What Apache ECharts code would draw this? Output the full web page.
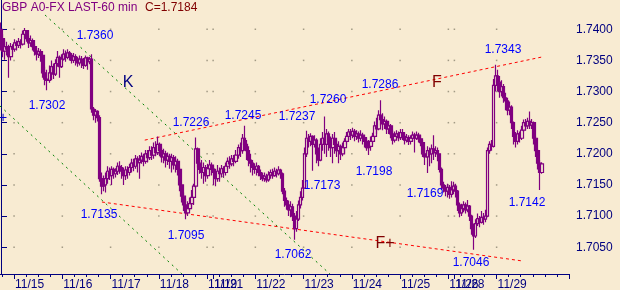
<!DOCTYPE html>
<html><head><meta charset="utf-8">
<script src="https://cdn.jsdelivr.net/npm/echarts@6/dist/echarts.min.js"></script>
<style>html,body{margin:0;padding:0;background:#F8EBD2;}#c{width:620px;height:290px;}</style>
</head><body><div id="c"></div>
<script>
// ---- data (prices in pips above 1.7000) ----
const firstOpen = 400;
const closes = [
385,365,372,368,356,372,368,378,374,380,
376,392,398,385,378,382,372,365,360,364,
358,330,320,318,330,340,328,345,355,340,
352,360,355,362,358,350,356,352,346,352,
350,342,354,348,352,272,262,268,258,160,
148,150,160,172,165,175,168,172,180,178,
172,165,174,170,178,185,180,192,186,190,
196,188,200,194,205,198,210,202,215,205,
195,200,190,196,188,194,182,188,175,150,
132,118,105,112,120,130,148,208,185,175,
170,178,165,176,182,175,170,160,172,168,
176,170,180,188,184,192,188,198,210,205,
225,215,205,190,185,178,175,180,170,165,
160,164,158,166,170,165,172,168,174,168,
140,125,118,110,115,100,80,95,118,130,
145,200,225,220,228,215,222,200,190,215,
225,215,232,220,210,225,215,205,212,200,
210,220,228,235,230,236,228,232,225,230,
226,220,210,212,220,228,245,240,262,255,
248,252,240,245,232,222,228,232,226,234,
228,222,226,220,225,230,225,230,224,218,
200,195,205,200,208,202,205,200,175,150,
145,140,146,135,142,148,140,118,105,112,
118,110,116,100,80,68,88,96,90,98,
95,100,205,215,212,310,325,315,300,308,
290,285,270,275,250,228,220,232,225,238,
250,245,252,246,250,225,205,185,170,184];
const highs = [
411,392,383,380,375,378,376,384,382,386,
384,398,402,399,388,390,385,376,370,370,
368,360,340,335,342,350,345,352,365,358,
360,368,366,368,365,362,362,360,356,358,
357,354,358,356,356,360,275,272,270,262,
170,165,170,180,178,180,178,177,186,188,
182,178,180,180,184,192,192,198,196,198,
202,200,206,206,212,212,218,220,228,218,
210,208,205,202,200,200,198,196,192,178,
152,138,128,124,130,142,152,226,210,192,
190,186,182,184,190,186,180,175,182,178,
182,180,186,194,196,198,198,206,215,218,
232,245,222,212,200,190,185,186,182,175,
170,170,168,172,175,176,178,176,180,176,
170,145,130,125,124,120,105,108,125,140,
158,210,237,232,233,230,230,225,210,225,
235,260,240,236,228,232,235,222,220,215,
218,225,235,240,240,242,240,238,236,238,
234,230,225,222,228,234,252,258,270,286,
265,260,255,252,248,238,236,238,236,240,
240,234,232,230,230,236,234,236,234,230,
222,210,212,210,215,230,212,210,200,178,
155,150,152,150,156,155,152,142,122,120,
124,122,126,118,102,88,95,104,100,108,
105,110,210,220,222,320,343,335,325,318,
312,298,290,284,278,252,235,238,236,245,
255,256,258,268,256,252,228,208,190,186];
const lows = [
366,355,351,358,322,350,360,364,366,370,
369,374,385,380,370,372,366,358,350,354,
348,322,310,302,314,318,320,325,340,322,
338,350,348,352,350,345,346,342,340,342,
338,336,340,335,344,266,254,250,252,155,
135,140,138,152,158,150,160,162,166,168,
160,150,158,160,165,170,172,176,170,160,
184,180,184,186,190,190,192,196,198,196,
186,185,178,182,176,170,175,170,165,140,
122,108,95,100,108,112,118,145,178,168,
160,152,155,160,166,165,150,148,155,155,
162,162,165,175,176,180,180,185,192,195,
200,205,190,180,170,165,168,165,164,158,
156,155,154,155,160,160,163,162,165,160,
135,115,110,100,98,92,62,75,92,112,
125,145,195,210,212,173,210,185,180,188,
205,200,195,205,195,185,200,195,185,190,
196,200,215,222,222,225,220,222,218,220,
215,210,205,198,205,215,225,232,238,245,
238,240,232,232,225,215,218,222,220,222,
222,215,218,214,215,220,202,222,218,212,
195,182,169,180,185,190,195,188,170,142,
138,132,130,128,130,135,130,108,98,100,
106,104,106,92,70,46,65,84,82,88,
86,90,98,200,205,210,300,300,290,292,
282,270,262,262,240,215,210,215,218,222,
235,238,240,240,240,215,195,175,142,168];
const dayTickIdx = [7,31,55,79,103,106,127,151,175,199,223,226,247];
const dayLabels = ['11/15','11/16','11/17','11/18','11/19','11/21','11/22','11/23','11/24','11/25','11/26','11/28','11/29'];
const yTicks = [1.7050,1.7100,1.7150,1.7200,1.7250,1.7300,1.7350,1.7400];
const swingValues = ['1.7360','1.7302','1.7226','1.7245','1.7237','1.7260','1.7286','1.7343','1.7135','1.7095','1.7062','1.7173','1.7198','1.7169','1.7046','1.7142'];
const lastClose = '1.7184';
// trend lines: [barIndex, price]
const lineUpperF = [[71.5,1.7222],[269.1,1.73555]];
const lineLowerF = [[50.2,1.71226],[259.6,1.70278]];
const lineGreen1 = [[21.9,1.74229],[163.6,1.7007]];
const lineGreen2 = [[-0.5,1.72768],[90.0,1.7007]];

// ---- build ----
const N = 283;
const bg = '#F8EBD2', purple = '#800080', navy = '#000080', font = '"Liberation Sans", Arial, sans-serif';
const P = p => +(1.7 + p / 10000).toFixed(4);
const candles = closes.map((c, i) => {
  const o = i === 0 ? firstOpen : closes[i - 1];
  const h = Math.max(highs[i], o, c), l = Math.min(lows[i], o, c);
  return [P(o), P(c), P(l), P(h)];
});
const cats = Array.from({length: N}, (_, i) => String(i));
const majorSet = new Set(dayTickIdx);
const labelMap = {}; dayTickIdx.forEach((t, k) => labelMap[t] = dayLabels[k]);
const dots = [];
dayTickIdx.forEach(t => yTicks.forEach(v => dots.push([t - 0.5, v])));

const swingPos = [[95,36],[47,106],[191,123],[243,116],[297,117],[328,100],[380,85],[503,50],[99,215],[186,236],[293,255],[322,186],[374,172],[425,194],[471,263],[527,203]];
const graphics = swingValues.map((t, k) => ({type:'text', x: swingPos[k][0], y: swingPos[k][1], z: 50,
  style:{text:t, fill:'#0000ff', font:'12px ' + font, align:'center', verticalAlign:'middle'}}));
graphics.push({type:'text', x:2, y:8, z:50, style:{text:'GBP A0-FX LAST-60 min', fill:purple, font:'12px ' + font, align:'left', verticalAlign:'middle'}});
graphics.push({type:'text', x:145, y:8, z:50, style:{text:'C=' + lastClose, fill:'#800000', font:'12px ' + font, align:'left', verticalAlign:'middle'}});
graphics.push({type:'text', x:128, y:83, z:50, style:{text:'K', fill:navy, font:'16px ' + font, align:'center', verticalAlign:'middle'}});
graphics.push({type:'text', x:437, y:83, z:50, style:{text:'F', fill:'#800000', font:'16px ' + font, align:'center', verticalAlign:'middle'}});
graphics.push({type:'text', x:385, y:244, z:50, style:{text:'F+', fill:'#800000', font:'16px ' + font, align:'center', verticalAlign:'middle'}});
graphics.push({type:'text', x:3, y:118, z:50, style:{text:'+', fill:'#0000cc', font:'14px ' + font, align:'center', verticalAlign:'middle'}});

const lineSeries = (data, color, dash) => ({type:'line', xAxisIndex:2, yAxisIndex:0, data, symbol:'none', silent:true, z:3,
  lineStyle:{color, width:1, type:dash}, clip:true});

const chart = echarts.init(document.getElementById('c'), null, {renderer:'canvas'});
chart.setOption({
  animation:false,
  backgroundColor:bg,
  grid:{left:0, right:51, top:0, bottom:16, containLabel:false, outerBoundsMode:'none'},
  xAxis:[
    {type:'category', data:cats, boundaryGap:true, position:'bottom',
     axisLine:{show:true, onZero:false, lineStyle:{color:navy, width:1}},
     axisTick:{show:true, interval:(i) => (i - 1) % 6 === 0, length:3, lineStyle:{color:navy}},
     axisLabel:{show:false}, splitLine:{show:false}},
    {type:'category', data:cats, boundaryGap:true, position:'bottom',
     axisLine:{show:false, onZero:false},
     axisTick:{show:true, interval:(i) => majorSet.has(i), length:5, lineStyle:{color:navy}},
     axisLabel:{show:true, interval:(i) => majorSet.has(i), formatter:(v) => labelMap[+v] || '', align:'left', margin:5,
       color:navy, fontSize:12, fontFamily:font},
     splitLine:{show:false}},
    {type:'value', min:-0.5, max:N - 0.5, show:false}
  ],
  yAxis:[{type:'value', position:'right', min:1.7007, max:1.7447,
    axisLine:{show:true, lineStyle:{color:navy}},
    axisTick:{show:true, length:6, customValues:yTicks, lineStyle:{color:navy}},
    axisLabel:{show:true, customValues:yTicks, formatter:(v) => v.toFixed(4), margin:7, color:navy, fontSize:12, fontFamily:font},
    splitLine:{show:false}}],
  series:[
    {type:'scatter', xAxisIndex:2, yAxisIndex:0, data:dots, symbol:'rect', symbolSize:1.5, silent:true, z:1,
     itemStyle:{color:'#8c8672'}},
    lineSeries(lineGreen1, '#008000', [2,4]),
    lineSeries(lineGreen2, '#008000', [2,4]),
    lineSeries(lineUpperF, '#ff0000', [3,3]),
    lineSeries(lineLowerF, '#ff0000', [3,3]),
    {type:'candlestick', xAxisIndex:0, yAxisIndex:0, data:candles, barWidth:3, barMinWidth:3, z:5, silent:true,
     itemStyle:{color:bg, color0:purple, borderColor:purple, borderColor0:purple, borderColorDoji:purple, borderWidth:1.2}}
  ],
  graphic:graphics
});
</script></body></html>
